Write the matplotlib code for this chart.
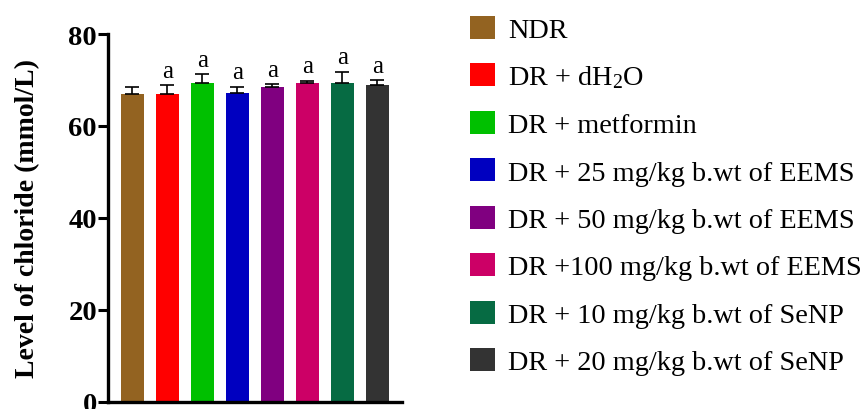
import numpy as np
import matplotlib
matplotlib.use("Agg")
import matplotlib.pyplot as plt
from matplotlib.patches import Patch

plt.rcParams['font.family'] = ['Liberation Serif', 'DejaVu Serif']
plt.rcParams['mathtext.fontset'] = 'custom'
plt.rcParams['mathtext.rm'] = 'Liberation Serif'
plt.rcParams['mathtext.it'] = 'Liberation Serif:italic'

# groups and values
groups = ['NDR', 'DR + dH$_\\mathrm{2}$O', 'DR + metformin',
          'DR + 25 mg/kg b.wt of EEMS', 'DR + 50 mg/kg b.wt of EEMS',
          'DR +100 mg/kg b.wt of EEMS', 'DR + 10 mg/kg b.wt of SeNP',
          'DR + 20 mg/kg b.wt of SeNP']
means = [67.0, 66.9, 69.3, 67.1, 68.5, 69.3, 69.3, 69.0]
errors = [1.5, 1.9, 2.0, 1.4, 0.6, 0.5, 2.5, 1.0]
letters = ['', 'a', 'a', 'a', 'a', 'a', 'a', 'a']
colors = ['#936321', '#FF0000', '#00C000', '#0000C0',
          '#800080', '#CC0066', '#066B43', '#333333']

fig = plt.figure(figsize=(8.62, 4.10), dpi=100)
ax = fig.add_axes([0.1253, 0.0178, 0.3407, 0.8968])

x = np.arange(len(means))
ax.bar(x, means, width=0.67, color=colors, zorder=2)
ax.errorbar(x, means, yerr=[np.zeros(len(errors)), errors], fmt='none',
            ecolor='black', elinewidth=1.2, capsize=4.7, capthick=1.2, zorder=3)

for xi, m, e, t in zip(x, means, errors, letters):
    if t:
        ax.annotate(t, (xi, m + e), xytext=(0, 2.5), textcoords='offset points',
                    ha='center', va='bottom', fontsize=18)

ax.set_xlim(-0.7, 7.7)
ax.set_ylim(0, 80)
ax.set_yticks([0, 20, 40, 60, 80])
ax.set_xticks([])
for lab in ax.get_yticklabels():
    lab.set_fontweight('bold')
ax.tick_params(axis='y', labelsize=20.5, width=2.2, length=7, pad=1)
ax.spines['top'].set_visible(False)
ax.spines['right'].set_visible(False)
ax.spines['left'].set_linewidth(2.4)
ax.spines['bottom'].set_linewidth(2.4)
ax.set_ylabel('Level of chloride (mmol/L)', fontsize=20, fontweight='bold', labelpad=20)

handles = [Patch(facecolor=c, edgecolor='none') for c in colors]
fig.legend(handles, groups, loc='upper left', bbox_to_anchor=(0.526, 1.0),
           frameon=False, fontsize=20.3, handlelength=0.87, handleheight=0.87,
           handletextpad=0.48, labelspacing=0.72, borderaxespad=0.2)

fig.savefig('out.png', dpi=100)
